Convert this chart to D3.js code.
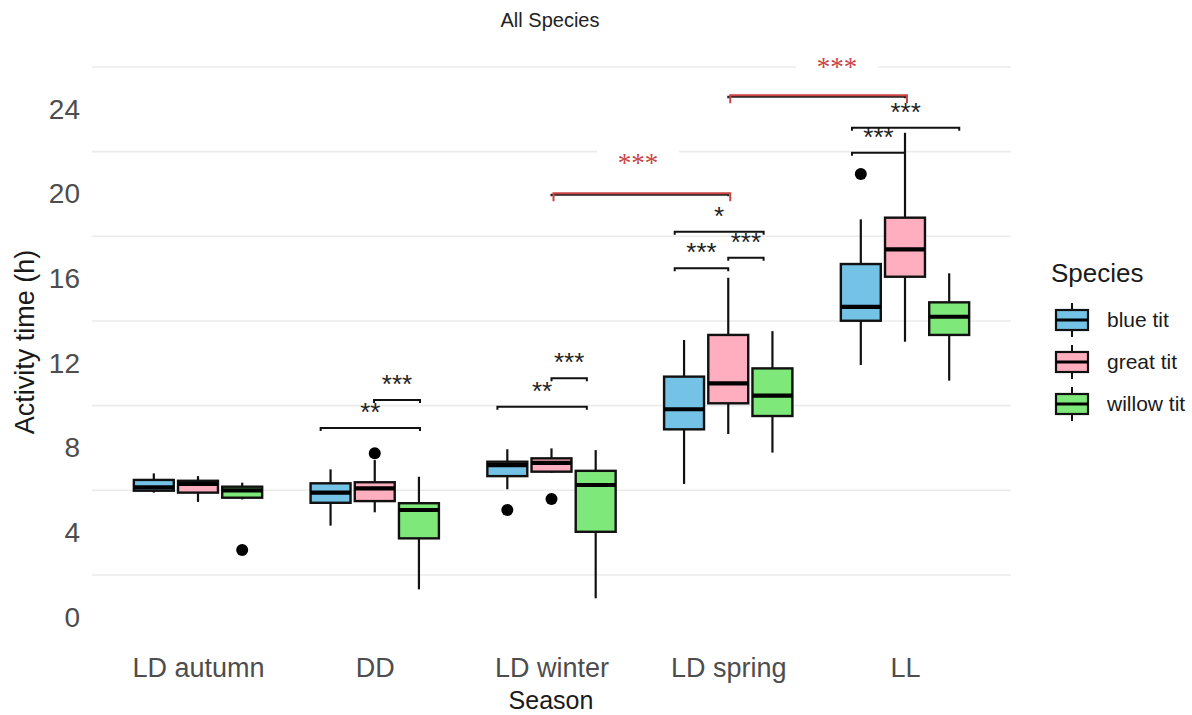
<!DOCTYPE html>
<html>
<head>
<meta charset="utf-8">
<script src="https://cdn.jsdelivr.net/npm/d3@7"></script>
<style>
  html, body { margin: 0; padding: 0; background: #fff; }
  svg { display: block; font-family: "Liberation Sans", Arial, sans-serif; }
</style>
</head>
<body>
<svg id="chart" width="1192" height="715"></svg>
<script>
// ---------- data ----------
const categories = ["LD autumn", "DD", "LD winter", "LD spring", "LL"];
const species = ["blue tit", "great tit", "willow tit"];
const speciesColors = ["#74c2e5", "#feaebf", "#7fe87b"];
const yTicks = [0, 4, 8, 12, 16, 20, 24];
const yMinorGrid = [2, 6, 10, 14, 18, 22, 26];

// [lower whisker, Q1, median, Q3, upper whisker] per category
const blueTitStats = [
  [5.89, 5.98, 6.14, 6.49, 6.80],
  [4.33, 5.41, 5.89, 6.33, 6.99],
  [6.05, 6.67, 7.19, 7.35, 7.94],
  [6.30, 8.88, 9.83, 11.37, 13.10],
  [11.92, 14.01, 14.67, 16.69, 18.80]
];
const greatTitStats = [
  [5.45, 5.89, 6.30, 6.45, 6.67],
  [4.96, 5.49, 6.09, 6.38, 7.43],
  [6.83, 6.88, 7.30, 7.51, 7.98],
  [8.66, 10.11, 11.05, 13.34, 16.04],
  [13.02, 16.09, 17.38, 18.88, 22.89]
];
const willowTitStats = [
  [5.57, 5.65, 6.00, 6.17, 6.36],
  [1.32, 3.73, 5.07, 5.39, 6.64],
  [0.90, 4.04, 6.25, 6.92, 7.90],
  [7.78, 9.51, 10.47, 11.76, 13.52],
  [11.18, 13.34, 14.20, 14.88, 16.25]
];
// [category index, species index, value]
const outliers = [
  [0, 2, 3.18],
  [1, 1, 7.75],
  [2, 0, 5.07],
  [2, 1, 5.59],
  [4, 0, 20.94]
];
// within-season comparisons: [xmin, xmax (category units), y, label]
const brackets = [
  [0.694, 1.256, 8.94, "**"],
  [0.996, 1.256, 10.27, "***"],
  [1.694, 2.200, 9.95, "**"],
  [2.000, 2.200, 11.29, "***"],
  [2.697, 3.000, 16.49, "***"],
  [3.000, 3.200, 16.99, "***"],
  [2.697, 3.200, 18.21, "*"],
  [3.700, 4.000, 21.95, "***"],
  [3.700, 4.307, 23.13, "***"]
];
// between-season comparisons: [xmin, xmax, y, labelX, labelY, label]
const seasonBrackets = [
  [2.0, 3.0, 20.03, 2.489, 21.70, "***"],
  [3.0, 4.0, 24.66, 3.615, 26.23, "***"]
];

// ---------- layout ----------
const svg = d3.select("#chart");
const x = d3.scaleLinear().domain([0, 4]).range([198, 905]);
const step = x(1) - x(0);
const y = d3.scaleLinear().domain([0, 24]).range([617.3, 109.3]);
const dodge = [-0.25, 0, 0.25];
const boxW = 0.226 * step;
const panelL = x(-0.6), panelR = x(4.6);

// grid (minor only)
svg.append("g").selectAll("line").data(yMinorGrid).join("line")
  .attr("x1", panelL).attr("x2", panelR)
  .attr("y1", d => y(d)).attr("y2", d => y(d))
  .attr("stroke", "#ebebeb").attr("stroke-width", 1.6);

// title
svg.append("text").attr("x", 550).attr("y", 27).attr("text-anchor", "middle")
  .attr("font-size", 20).attr("fill", "#222").text("All Species");

// axes
const xAxis = d3.axisBottom(x).tickValues(d3.range(categories.length))
  .tickFormat(i => categories[i]).tickSize(0).tickPadding(0);
const gx = svg.append("g").attr("transform", "translate(0,658)").call(xAxis);
gx.select(".domain").remove();
gx.selectAll("text").attr("font-size", 27).attr("fill", "#4d4d4d")
  .attr("font-family", "Liberation Sans, Arial, sans-serif").attr("dy", "0.71em");

const yAxis = d3.axisLeft(y).tickValues(yTicks).tickSize(0).tickPadding(0);
const gy = svg.append("g").attr("transform", "translate(80,0)").call(yAxis);
gy.select(".domain").remove();
gy.selectAll("text").attr("font-size", 28).attr("fill", "#4d4d4d")
  .attr("font-family", "Liberation Sans, Arial, sans-serif");

svg.append("text").attr("x", 551).attr("y", 709).attr("text-anchor", "middle")
  .attr("font-size", 25).attr("fill", "#1a1a1a").text("Season");
svg.append("text").attr("transform", "translate(34,342) rotate(-90)")
  .attr("text-anchor", "middle").attr("font-size", 27).attr("fill", "#1a1a1a")
  .text("Activity time (h)");

// boxes
const allStats = [blueTitStats, greatTitStats, willowTitStats];
const boxes = [];
allStats.forEach((arr, s) => arr.forEach((st, c) => boxes.push({ s, c, st })));
const gb = svg.append("g");
const bx = d => x(d.c + dodge[d.s]);
gb.selectAll("line.wh").data(boxes).join("line").attr("class", "wh")
  .attr("x1", bx).attr("x2", bx)
  .attr("y1", d => y(d.st[0])).attr("y2", d => y(d.st[4]))
  .attr("stroke", "#111").attr("stroke-width", 2.2);
gb.selectAll("rect").data(boxes).join("rect")
  .attr("x", d => bx(d) - boxW / 2).attr("width", boxW)
  .attr("y", d => y(d.st[3])).attr("height", d => y(d.st[1]) - y(d.st[3]))
  .attr("fill", d => speciesColors[d.s]).attr("stroke", "#111").attr("stroke-width", 2.4);
gb.selectAll("line.med").data(boxes).join("line").attr("class", "med")
  .attr("x1", d => bx(d) - boxW / 2).attr("x2", d => bx(d) + boxW / 2)
  .attr("y1", d => y(d.st[2])).attr("y2", d => y(d.st[2]))
  .attr("stroke", "#000").attr("stroke-width", 4.2);
gb.selectAll("circle").data(outliers).join("circle")
  .attr("cx", d => x(d[0] + dodge[d[1]])).attr("cy", d => y(d[2])).attr("r", 6)
  .attr("fill", "#000");

// significance brackets
const tip = 3;
const gs = svg.append("g");
brackets.forEach(b => {
  const x1 = x(b[0]), x2 = x(b[1]), yy = y(b[2]);
  gs.append("path").attr("d", `M${x1},${yy + tip}V${yy}H${x2}V${yy + tip}`)
    .attr("fill", "none").attr("stroke", "#111").attr("stroke-width", 2);
  gs.append("text").attr("x", (x1 + x2) / 2).attr("y", yy - 7).attr("text-anchor", "middle")
    .attr("font-size", 26).attr("fill", "#222").text(b[3]);
});
seasonBrackets.forEach(b => {
  const x1 = x(b[0]), x2 = x(b[1]), yy = y(b[2]);
  gs.append("path").attr("d", `M${x1},${yy + 3}V${yy + 1.5}H${x2}V${yy + 3}`)
    .attr("fill", "none").attr("stroke", "#222").attr("stroke-width", 2);
  gs.append("path").attr("d", `M${x1 + 2},${yy + 8}V${yy}H${x2 + 2}V${yy + 8}`)
    .attr("fill", "none").attr("stroke", "#cc4444").attr("stroke-width", 2);
  const lx = x(b[3]), ly = y(b[4]);
  gs.append("rect").attr("x", lx - 41).attr("y", ly - 13).attr("width", 82).attr("height", 26)
    .attr("fill", "#fff");
  gs.append("text").attr("x", lx).attr("y", ly + 14).attr("text-anchor", "middle")
    .attr("font-family", "Liberation Serif, serif")
    .attr("font-size", 27).attr("fill", "#cc4444").text(b[5]);
});

// legend
const lg = svg.append("g");
lg.append("text").attr("x", 1051).attr("y", 282).attr("font-size", 26).attr("fill", "#1a1a1a").text("Species");
species.forEach((name, i) => {
  const cy = 320 + i * 42;
  lg.append("line").attr("x1", 1072).attr("x2", 1072).attr("y1", cy - 17).attr("y2", cy + 17)
    .attr("stroke", "#111").attr("stroke-width", 2);
  lg.append("rect").attr("x", 1056).attr("y", cy - 10).attr("width", 32).attr("height", 20)
    .attr("fill", speciesColors[i]).attr("stroke", "#111").attr("stroke-width", 2.2);
  lg.append("line").attr("x1", 1056).attr("x2", 1088).attr("y1", cy).attr("y2", cy)
    .attr("stroke", "#000").attr("stroke-width", 3);
  lg.append("text").attr("x", 1107).attr("y", cy).attr("dy", "0.35em")
    .attr("font-size", 21).attr("fill", "#1a1a1a").text(name);
});
</script>
</body>
</html>
